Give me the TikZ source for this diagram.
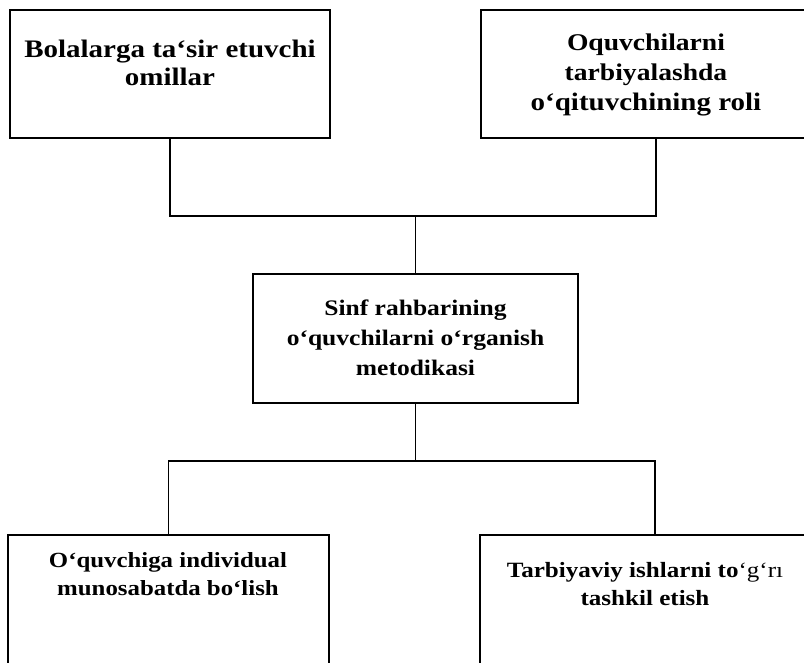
\documentclass[tikz,border=0pt]{standalone}
\usepackage{fontspec}
\setmainfont{Liberation Serif}
\newfontfamily\boxfont[FakeStretch=1.15]{Liberation Serif}

\begin{document}
\begin{tikzpicture}[x=1pt, y=-1pt,
        box/.style={draw, rectangle, line width=1.5pt, inner sep=0pt},
        lbl/.style={align=center, inner sep=0pt},
        link/.style={line width=1.5pt}]
        \useasboundingbox (0,0) rectangle (804,662);
        \clip (0,0) rectangle (804,662);

        % boxes
        \node[box, minimum width=320, minimum height=128] (factors) at (170,74) {};
        \node[box, minimum width=350, minimum height=128] (role) at (656,74) {};
        \node[box, minimum width=325, minimum height=129] (method) at (415.5,338.5) {};
        \node[box, minimum width=321, minimum height=185] (individual) at (168.5,627.5) {};
        \node[box, minimum width=350, minimum height=185] (work) at (655,627.5) {};

        % texts
        \node[lbl, font=\boxfont\fontsize{25.2}{28}\selectfont\bfseries] (factors_text) at (170,62.5) {Bolalarga ta‘sir etuvchi\\omillar};
        \node[lbl, font=\boxfont\fontsize{24}{30}\selectfont\bfseries] (role_text) at (646,75)
            {Oquvchilarni\\tarbiyalashda\\\fontsize{25.2}{30}\selectfont o‘qituvchining roli};
        \node[lbl, font=\boxfont\fontsize{22.2}{30}\selectfont\bfseries] (method_text) at (415.5,337.5) {Sinf rahbarining\\o‘quvchilarni o‘rganish\\metodikasi};
        \node[lbl, font=\boxfont\fontsize{21.6}{28}\selectfont\bfseries] (individual_text) at (168,573.7) {O‘quvchiga individual\\munosabatda bo‘lish};
        \node[lbl, font=\boxfont\fontsize{21.8}{28}\selectfont\bfseries] (work_text) at (645,583.6) {Tarbiyaviy ishlarni to{\mdseries‘g‘rı}\\tashkil etish};

        %% connection
        \coordinate (upper_bar) at (415.5,216);
        \coordinate (lower_bar) at (415.5,461);
        \draw[link] (factors.south) |- (upper_bar) -| (role.south);
        \draw[link] (upper_bar) -- (method.north);
        \draw[link] (method.south) -- (lower_bar);
        \draw[link] (individual.north) |- (lower_bar) -| (work.north);
    \end{tikzpicture}
\end{document}
